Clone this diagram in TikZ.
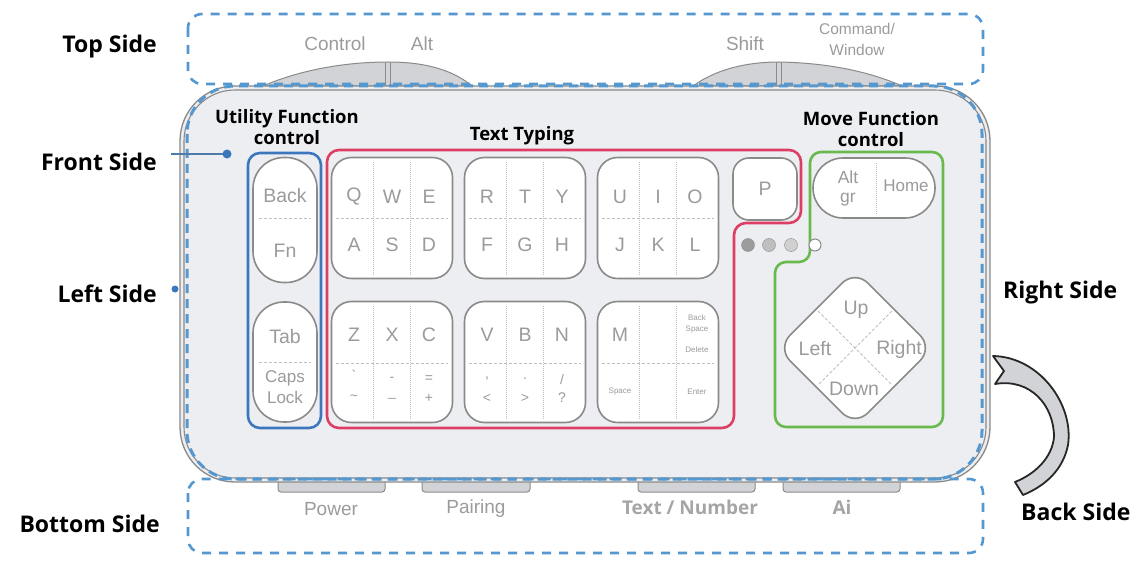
\documentclass[tikz,border=0pt]{standalone}
\usepackage{fontspec}
\setmainfont{Liberation Sans}
\newfontfamily\headfont{Open Sans}
\usetikzlibrary{calc,positioning}

\definecolor{dashblue}{HTML}{5597CF}
\definecolor{grpblue}{HTML}{3C77BE}
\definecolor{grpred}{HTML}{DC3E64}
\definecolor{grpgreen}{HTML}{68BA4E}
\definecolor{bodyfill}{HTML}{EDEEF1}
\definecolor{keyline}{HTML}{8A8A8A}
\definecolor{keytext}{HTML}{9B9B9B}
\definecolor{btnfill}{HTML}{D1D3D6}

\tikzset{
  sidelabel/.style={font=\headfont\bfseries\fontsize{23}{25}\selectfont, inner sep=0pt},
  grplabel/.style={font=\headfont\bfseries\fontsize{18.5}{21}\selectfont, align=center, inner sep=0pt},
  keyblock/.style={draw=keyline, line width=1.6pt, fill=white, rounded corners=20pt},
  keytxt/.style={text=keytext, font=\fontsize{19.5}{21}\selectfont, inner sep=0pt},
  symtxt/.style={text=keytext, font=\fontsize{14}{16}\selectfont, inner sep=0pt},
  tinytxt/.style={text=keytext, font=\fontsize{8}{10}\selectfont, align=center, inner sep=0pt},
  divline/.style={draw=keyline!55, densely dotted, line width=1pt},
  sidebox/.style={draw=dashblue, line width=2.6pt, dash pattern=on 9pt off 8pt, rounded corners=14pt},
  btn/.style={draw=keyline, fill=btnfill, line width=1pt}
}

\begin{document}
\begin{tikzpicture}[x=1pt,y=-1pt]
\useasboundingbox (0,0) rectangle (1145,561);

% top and bottom buttons (behind the body)
\path[btn] (263,86) .. controls (300,70) and (345,62) .. (388,62)
  .. controls (430,62) and (455,72) .. (472,86) -- cycle;
\draw[keyline, line width=1pt] (385.5,62) -- (385.5,86) (390.5,62) -- (390.5,86);
\path[btn] (693,86) .. controls (715,70) and (745,62) .. (779,62)
  .. controls (830,63) and (870,72) .. (902,86) -- cycle;
\draw[keyline, line width=1pt] (776.5,62) -- (776.5,86) (781.5,62) -- (781.5,86);
\foreach \bx/\bw in {278/107, 422/108, 638/117, 783/117}
  \path[btn, rounded corners=3pt] (\bx,470) rectangle ++(\bw,22);

% body
\draw[keyline, line width=1.3pt, fill=bodyfill, rounded corners=55pt] (180,86) rectangle (990,482);
\draw[keyline, line width=1.1pt, rounded corners=51pt] (184,90) rectangle (986,478);
\draw[dashblue, line width=3pt, dash pattern=on 9pt off 6pt, rounded corners=48pt] (187,86) rectangle (982,479);

% side boxes
\draw[sidebox] (188,14) rectangle (983,84);
\draw[sidebox] (188,479) rectangle (983,553);

% top / bottom button labels
\node[text=keytext, font=\fontsize{19}{21}\selectfont] (ctrl) at (335,44) {Control};
\node[text=keytext, font=\fontsize{19}{21}\selectfont] (alt) at (422,44) {Alt};
\node[text=keytext, font=\fontsize{19}{21}\selectfont] (shift) at (745,44) {Shift};
\node[text=keytext, font=\fontsize{15.5}{21}\selectfont, align=center] (cmd) at (857,39) {Command/\\Window};
\node[text=keytext, font=\fontsize{19}{21}\selectfont] (power) at (331,509) {Power};
\node[text=keytext, font=\fontsize{19}{21}\selectfont] (pair) at (476,509) {Pairing};
\node[text=keytext!90, font=\headfont\bfseries\fontsize{19}{21}\selectfont] (txtnum) at (690,507) {Text / Number};
\node[text=keytext!90, font=\headfont\bfseries\fontsize{19}{21}\selectfont] (ai) at (842,507) {Ai};

% groups
\draw[grpblue, line width=2.6pt, rounded corners=12pt] (248,153) rectangle (321,428);
\draw[grpred, line width=2.6pt, rounded corners=12pt]
  (327,150) -- (801,150) -- (801,223) -- (734,223) -- (734,428) -- (327,428) -- cycle;
\draw[grpgreen, line width=2.6pt, rounded corners=11pt]
  (810,152) -- (943,152) -- (943,427) -- (775,427) -- (775,262) -- (810,262) -- cycle;

\node[grplabel] (utilabel) at (287,127) {Utility Function\\control};
\node[grplabel] (typelabel) at (522,136) {Text Typing};
\node[grplabel] (movelabel) at (871,129) {Move Function\\control};

% utility keys
\node[keyblock, rounded corners=31pt, minimum width=64pt, minimum height=125pt] (backfn) at (285,220) {};
\node[keyblock, rounded corners=31pt, minimum width=64pt, minimum height=120pt] (tabcaps) at (285,362) {};
\draw[divline, densely dashed] (259,219) -- (311,219);
\draw[divline, densely dashed] (259,362) -- (311,362);
\node[keytxt] at (285,196) {Back};
\node[keytxt] at (285,251) {Fn};
\node[keytxt] at (285,337) {Tab};
\node[keytxt, font=\fontsize{17}{21}\selectfont, align=center] at (285,387) {Caps\\Lock};

% letter blocks
\foreach \blk/\cx/\cy in {qwe/392/218, rty/525/218, uio/658/218, zxc/392/362, vbn/525/362, mblk/658/362}{
  \node[keyblock, minimum width=121pt, minimum height=121pt] (\blk) at (\cx,\cy) {};
  \draw[divline] ($(\blk.north)+(-18.5,5)$) -- ($(\blk.south)+(-18.5,-5)$);
  \draw[divline] ($(\blk.north)+(18.5,5)$) -- ($(\blk.south)+(18.5,-5)$);
  \draw[divline, densely dashed] ($(\blk.west)+(5,1)$) -- ($(\blk.east)+(-5,1)$);
}
\foreach \blk/\a/\b/\c/\d/\e/\f in {qwe/Q/W/E/A/S/D, rty/R/T/Y/F/G/H, uio/U/I/O/J/K/L}{
  \node[keytxt] at ($(\blk)+(-38,-21)$) {\a};
  \node[keytxt] at ($(\blk)+(0,-21)$) {\b};
  \node[keytxt] at ($(\blk)+(37,-21)$) {\c};
  \node[keytxt] at ($(\blk)+(-38,27)$) {\d};
  \node[keytxt] at ($(\blk)+(0,27)$) {\e};
  \node[keytxt] at ($(\blk)+(37,27)$) {\f};
}
\foreach \blk/\a/\b/\c in {zxc/Z/X/C, vbn/V/B/N}{
  \node[keytxt] at ($(\blk)+(-38,-27)$) {\a};
  \node[keytxt] at ($(\blk)+(0,-27)$) {\b};
  \node[keytxt] at ($(\blk)+(37,-27)$) {\c};
}
\node[symtxt] at ($(zxc)+(-38,13)$) {\textasciigrave};
\node[symtxt] at ($(zxc)+(-38,36)$) {\textasciitilde};
\node[symtxt] at ($(zxc)+(0,17)$) {-};
\node[symtxt] at ($(zxc)+(0,36)$) {\_};
\node[symtxt] at ($(zxc)+(37,17)$) {=};
\node[symtxt] at ($(zxc)+(37,36)$) {+};
\node[symtxt] at ($(vbn)+(-38,17)$) {,};
\node[symtxt] at ($(vbn)+(-38,36)$) {<};
\node[symtxt] at ($(vbn)+(0,17)$) {.};
\node[symtxt] at ($(vbn)+(0,36)$) {>};
\node[symtxt] at ($(vbn)+(37,17)$) {/};
\node[symtxt] at ($(vbn)+(37,36)$) {?};
\node[keytxt] at ($(mblk)+(-38,-27)$) {M};
\node[tinytxt, font=\fontsize{8}{11}\selectfont] at ($(mblk)+(39,-38)$) {Back\\Space};
\node[tinytxt] at ($(mblk)+(39,-12)$) {Delete};
\node[tinytxt] at ($(mblk)+(-38,30)$) {Space};
\node[tinytxt] at ($(mblk)+(39,30)$) {Enter};

% P key and dots
\node[keyblock, minimum width=64pt, minimum height=62pt, rounded corners=16pt] (pkey) at (765,189) {};
\node[keytxt] at (pkey) {P};
\draw[keyline, fill=keyline!85] (748,245) circle (6.5);
\draw[keyline, fill=keyline!55] (769,245) circle (6.5);
\draw[keyline, fill=keyline!40] (791,245) circle (6.5);
\draw[keyline, fill=white, line width=1pt] (815,245) circle (6);

% move keys
\node[keyblock, rounded corners=30pt, minimum width=122pt, minimum height=60pt] (althome) at (874,188) {};
\draw[divline] (876,163) -- (876,214);
\node[keytxt, font=\fontsize{17.5}{19}\selectfont, align=center] at (848,188) {Alt\\gr};
\node[keytxt, font=\fontsize{17}{19}\selectfont] at (906,186) {Home};
\node[keyblock, rounded corners=18pt, minimum size=110pt, rotate=45] (arrows) at (855,348) {};
\draw[divline, densely dashed] (818,311) -- (892,385);
\draw[divline, densely dashed] (892,311) -- (818,385);
\node[keytxt] at (856,310) {Up};
\node[keytxt] at (815,349) {Left};
\node[keytxt] at (899,349) {Right};
\node[keytxt] at (854,389) {Down};

% side labels
\node[sidelabel, anchor=east] (top) at (157,47) {Top Side};
\node[sidelabel, anchor=east] (front) at (157,162) {Front Side};
\node[sidelabel, anchor=east] (left) at (157,294) {Left Side};
\node[sidelabel, anchor=east] (bottom) at (160,524) {Bottom Side};
\node[sidelabel, anchor=west] (right) at (1003,293) {Right Side};
\node[sidelabel, anchor=west] (back) at (1021,512) {Back Side};

\coordinate (frontend) at (171,154);
\coordinate (frontdot) at (227,154);
\draw[grpblue!70!gray, line width=1.3pt] (frontend) -- (frontdot);
\fill[grpblue] (frontdot) circle (4.5);
\fill[grpblue] (175,289) circle (3.5);

% back side arrow
\draw[black!85, line width=1.8pt, fill=btnfill, line join=round]
  (993,356) .. controls (1040,357) and (1074,405) .. (1068,445)
  .. controls (1063,470) and (1045,486) .. (1023,495) -- (1015,482)
  .. controls (1035,474) and (1052,458) .. (1054,437)
  .. controls (1054,405) and (1030,378) .. (995,384)
  -- (1004,371) -- cycle;
\end{tikzpicture}
\end{document}
